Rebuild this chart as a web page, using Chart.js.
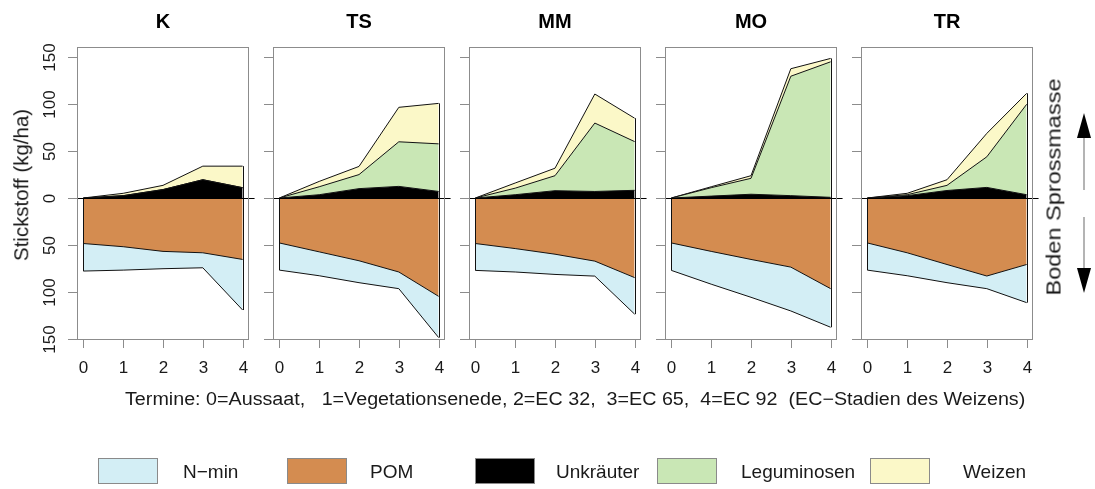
<!DOCTYPE html>
<html><head><meta charset="utf-8">
<script src="https://cdn.jsdelivr.net/npm/chart.js@4.4.0/dist/chart.umd.min.js"></script>
<style>
html,body{margin:0;padding:0;background:#fff;}
#wrap{position:relative;width:1095px;height:489px;overflow:hidden;font-family:"Liberation Sans",Arial,sans-serif;color:#1a1a1a;}
#wrap canvas{position:absolute;left:0;top:0;}
.t{position:absolute;white-space:pre;line-height:1;}
.lg{position:absolute;width:60px;height:26px;border:1px solid #8a8a8a;box-sizing:border-box;}
</style></head><body><div id="wrap"></div>
<script>
// ---- data ----
const panels = ['K', 'TS', 'MM', 'MO', 'TR'];
const termine = [0, 1, 2, 3, 4];
const yTicks = [-150, -100, -50, 0, 50, 100, 150];
const seriesNames = ['N\u2212min', 'POM', 'Unkr\u00e4uter', 'Leguminosen', 'Weizen'];
// soil (below zero), kg N/ha per panel
const nmin = [[29.4, 25, 18.5, 16, 54], [29, 25.5, 23.4, 17.8, 44], [28.7, 25, 21.6, 16, 39], [29.3, 35, 40.4, 46.8, 41.2], [29, 24.5, 19.4, 13.5, 40.7]];
const pom = [[48.6, 52, 57, 58.5, 65.6], [48, 57.5, 67, 79, 105], [48.6, 54, 60, 67.4, 85], [48, 57, 65.6, 73.8, 96.8], [48, 58.5, 71, 83.3, 71]];
// shoot mass (above zero)
const unkraeuter = [[0, 2.5, 9, 19.5, 11], [0, 3.5, 10, 12.4, 7], [0, 3.5, 7.8, 7, 8.2], [0, 2, 4, 2.5, 0.7], [0, 2.5, 8, 11.3, 3.5]];
const leguminosen = [[0, 0, 0, 0, 0], [0, 8.5, 15, 47.6, 50.8], [0, 7, 16, 73, 52], [0, 9, 17, 127.5, 144.7], [0, 1, 5.5, 32.7, 96.5]];
const weizen = [[0, 2.5, 4.5, 14.5, 23], [0, 5.7, 8.7, 36.8, 43.2], [0, 5.5, 8, 31, 25], [0, 1, 2.8, 8, 3.6], [0, 1.5, 6, 25, 11.7]];

// ---- styling / layout ----
const colors = {nmin: '#d3eef5', pom: '#d48c50', unk: '#000000', leg: '#c9e7b5', wei: '#fbf8c8'};
const W = 1095, H = 489;
const boxLefts = [77, 273, 469, 665, 861];
const boxW = 172, boxTop = 47, boxBottom = 340;
const FONT = '"Liberation Sans", Arial, sans-serif';

const wrap = document.getElementById('wrap');

function pts(arr, sign) { return termine.map((t, i) => ({x: t, y: sign * arr[i]})); }

const framePlugin = {
  id: 'framePlugin',
  afterDatasetsDraw(chart, args, opts) {
    const {ctx, chartArea: a, scales: {x, y}} = chart;
    ctx.save();
    // vertical polygon edges at first/last point
    ctx.strokeStyle = '#111'; ctx.lineWidth = 1;
    [0, termine.length - 1].forEach(j => {
      let ys = [y.getPixelForValue(0)];
      chart.data.datasets.forEach((d, i) => { const el = chart.getDatasetMeta(i).data[j]; if (el) ys.push(el.y); });
      const px = Math.round(x.getPixelForValue(termine[j])) + 0.5;
      ctx.beginPath(); ctx.moveTo(px, Math.min(...ys)); ctx.lineTo(px, Math.max(...ys)); ctx.stroke();
    });
    // zero line
    ctx.strokeStyle = '#000';
    const y0 = Math.round(y.getPixelForValue(0)) + 0.5;
    ctx.beginPath(); ctx.moveTo(x.getPixelForValue(-0.35), y0); ctx.lineTo(x.getPixelForValue(4.3), y0); ctx.stroke();
    // frame
    ctx.strokeStyle = '#8c8c8c';
    ctx.strokeRect(a.left + 0.5, a.top + 0.5, a.right - a.left - 1, a.bottom - a.top - 1);
    // x ticks
    ctx.fillStyle = '#1a1a1a';
    ctx.font = '17px ' + FONT; ctx.textAlign = 'center'; ctx.textBaseline = 'middle';
    termine.forEach(t => {
      const px = Math.round(x.getPixelForValue(t)) + 0.5;
      ctx.beginPath(); ctx.moveTo(px, a.bottom); ctx.lineTo(px, a.bottom + 8); ctx.stroke();
      ctx.fillText(String(t), px, 368);
    });
    // y ticks
    yTicks.forEach(v => {
      const py = Math.round(y.getPixelForValue(v)) + 0.5;
      ctx.beginPath(); ctx.moveTo(a.left - 9, py); ctx.lineTo(a.left, py); ctx.stroke();
      if (opts.yLabels) {
        ctx.save(); ctx.translate(50, py); ctx.rotate(-Math.PI / 2);
        ctx.fillText(String(Math.abs(v)), 0, 0); ctx.restore();
      }
    });
    // title
    ctx.font = 'bold 20px ' + FONT; ctx.fillStyle = '#000';
    ctx.fillText(opts.title, (a.left + a.right) / 2, 22);
    ctx.restore();
  }
};

panels.forEach((p, k) => {
  const cv = document.createElement('canvas');
  cv.width = W; cv.height = H; cv.style.width = W + 'px'; cv.style.height = H + 'px';
  wrap.appendChild(cv);
  const line = {borderColor: '#111', borderWidth: 1, pointRadius: 0, tension: 0};
  new Chart(cv, {
    type: 'line',
    data: {
      datasets: [
        Object.assign({label: seriesNames[2], data: pts(unkraeuter[k], 1), backgroundColor: colors.unk, fill: 'origin', stack: 'up'}, line),
        Object.assign({label: seriesNames[3], data: pts(leguminosen[k], 1), backgroundColor: colors.leg, fill: '-1', stack: 'up'}, line),
        Object.assign({label: seriesNames[4], data: pts(weizen[k], 1), backgroundColor: colors.wei, fill: '-1', stack: 'up'}, line),
        Object.assign({label: seriesNames[1], data: pts(pom[k], -1), backgroundColor: colors.pom, fill: 'origin', stack: 'down'}, line),
        Object.assign({label: seriesNames[0], data: pts(nmin[k], -1), backgroundColor: colors.nmin, fill: '-1', stack: 'down'}, line)
      ]
    },
    options: {
      responsive: false, animation: false, devicePixelRatio: 1,
      layout: {padding: {left: boxLefts[k], right: W - boxLefts[k] - boxW, top: boxTop, bottom: H - boxBottom}},
      scales: {
        x: {type: 'linear', min: -0.16, max: 4.16, display: false},
        y: {type: 'linear', stacked: true, min: -151.6, max: 161.2, display: false}
      },
      plugins: {legend: {display: false}, tooltip: {enabled: false},
        framePlugin: {title: p, yLabels: k === 0}}
    },
    plugins: [framePlugin]
  });
});

function addText(txt, css) {
  const d = document.createElement('div'); d.className = 't'; d.textContent = txt;
  Object.assign(d.style, css); wrap.appendChild(d); return d;
}
addText('Stickstoff (kg/ha)', {left: '22px', top: '185px', fontSize: '19.5px', transform: 'translate(-50%,-50%) rotate(-90deg) scaleX(1.05)'});
addText('Termine: 0=Aussaat,   1=Vegetationsenede, 2=EC 32,  3=EC 65,  4=EC 92  (EC\u2212Stadien des Weizens)', {left: '125px', top: '390px', fontSize: '18px', transform: 'scaleX(1.095)', transformOrigin: '0 50%'});
addText('Boden Sprossmasse', {left: '1053px', top: '187px', fontSize: '21px', transform: 'translate(-50%,-50%) rotate(-90deg) scaleX(1.12)'});

// legend
const legendItems = [[seriesNames[0], colors.nmin, 98, 183], [seriesNames[1], colors.pom, 287, 370], [seriesNames[2], colors.unk, 475, 556], [seriesNames[3], colors.leg, 657, 741], [seriesNames[4], colors.wei, 870, 963]];
legendItems.forEach(([name, col, bx, tx]) => {
  const b = document.createElement('div'); b.className = 'lg';
  Object.assign(b.style, {left: bx + 'px', top: '458px', background: col}); wrap.appendChild(b);
  addText(name, {left: tx + 'px', top: '462px', fontSize: '19px'});
});

// arrows
const svgNS = 'http://www.w3.org/2000/svg';
const svg = document.createElementNS(svgNS, 'svg');
svg.setAttribute('width', W); svg.setAttribute('height', H);
svg.style.position = 'absolute'; svg.style.left = '0'; svg.style.top = '0';
svg.innerHTML = '<line x1="1084" y1="190" x2="1084" y2="136" stroke="#8c8c8c" stroke-width="1.3"/>' +
  '<polygon points="1084,113 1077,138 1091,138" fill="#000"/>' +
  '<line x1="1084" y1="217" x2="1084" y2="270" stroke="#8c8c8c" stroke-width="1.3"/>' +
  '<polygon points="1084,293 1077,268 1091,268" fill="#000"/>';
wrap.appendChild(svg);
</script></body></html>
